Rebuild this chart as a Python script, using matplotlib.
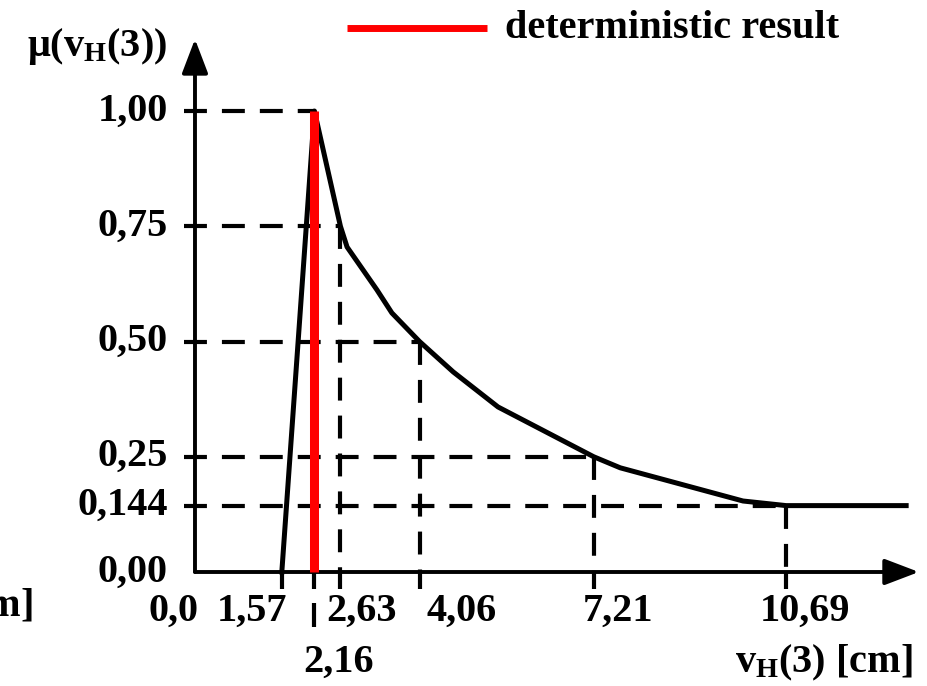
import matplotlib.pyplot as plt

plt.rcParams['font.family'] = 'Liberation Serif'
plt.rcParams['font.weight'] = 'bold'
plt.rcParams['mathtext.fontset'] = 'custom'
plt.rcParams['mathtext.rm'] = 'Liberation Serif:bold'
plt.rcParams['mathtext.it'] = 'Liberation Serif:bold'
plt.rcParams['mathtext.bf'] = 'Liberation Serif:bold'

# membership function of v_H(3)
v_curve = [1.57, 2.16, 2.63, 2.75, 3.29, 3.56, 4.06, 4.67, 5.48, 7.21, 7.69, 9.91, 10.69, 12.86]
mu_curve = [0.0, 1.0, 0.75, 0.705, 0.612, 0.562, 0.50, 0.434, 0.358, 0.25, 0.226, 0.154, 0.144, 0.144]

# alpha levels and matching displacements
levels = [1.00, 0.75, 0.50, 0.25, 0.144]
level_v = [2.16, 2.63, 4.06, 7.21, 10.69]
y_labels = ["1,00", "0,75", "0,50", "0,25", "0,144", "0,00"]
y_label_vals = [1.00, 0.75, 0.50, 0.25, 0.144, 0.0]

x_ticks = [1.57, 2.16, 2.63, 4.06, 7.21, 10.69]
x_labels = ["0,0", "1,57", "2,63", "4,06", "7,21", "10,69", "2,16"]
x_label_pos = [-0.38, 1.03, 3.02, 4.83, 7.65, 11.03, 2.60]   # where the labels were put
x_label_row = [-0.085, -0.085, -0.085, -0.085, -0.085, -0.085, -0.195]

v_det = 2.16

fig = plt.figure(figsize=(9.27, 6.86), dpi=100)
ax = fig.add_axes([0, 0, 1, 1])
ax.set_xlim(-3.526, 13.237)
ax.set_ylim(-0.2473, 1.2408)
ax.axis('off')

dash = (0, (5.5, 3.6))

# dashed guide lines
for lv, vv in zip(levels, level_v):
    ax.plot([-0.2, vv], [lv, lv], color='k', lw=3, ls=dash, zorder=1)
    if vv != v_det:
        ax.plot([vv, vv], [lv, 0], color='k', lw=3, ls=dash, zorder=1)

# small ticks below the x axis
for xt in x_ticks:
    ax.plot([xt, xt], [0, -0.036], color='k', lw=3, solid_capstyle='butt', zorder=2)
ax.plot([v_det, v_det], [-0.067, -0.119], color='k', lw=3, solid_capstyle='butt', zorder=2)

# axes with arrows
arrow = dict(arrowstyle='-|>,head_length=1.05,head_width=0.4', lw=2.8,
             color='k', mutation_scale=20, shrinkA=0, shrinkB=0)
ax.annotate('', xy=(13.09, 0), xytext=(0, 0), arrowprops=arrow)
ax.annotate('', xy=(0, 1.156), xytext=(0, 0), arrowprops=arrow)

# membership curve
ax.plot(v_curve, mu_curve, color='k', lw=3.6, solid_joinstyle='round', zorder=3)

# deterministic result
ax.plot([v_det, v_det], [0, 1.0], color='red', lw=6.5, solid_capstyle='butt', zorder=4)
ax.plot([2.75, 5.28], [1.18, 1.18], color='red', lw=5, solid_capstyle='butt')
ax.text(5.61, 1.18, 'deterministic result', fontsize=29, va='center', ha='left')

# labels
fs = 29
for lab, yv in zip(y_labels, y_label_vals):
    ax.text(-0.49, yv, lab, fontsize=fs, ha='right', va='center')
for lab, xp, yp in zip(x_labels, x_label_pos, x_label_row):
    ax.text(xp, yp, lab, fontsize=fs, ha='center', va='center')

ax.text(-0.506, 1.139, r'μ(v$_{\mathrm{H}}$(3))', fontsize=fs, ha='right', va='center')
ax.text(12.98, -0.197, r'v$_{\mathrm{H}}$(3) [cm]', fontsize=fs, ha='right', va='center')
# axis label repeated at the far left, cut by the figure edge as in the reference
ax.text(-2.93, -0.076, r'v$_{\mathrm{H}}$(3) [cm]', fontsize=fs, ha='right', va='center')

fig.savefig('out.png', dpi=100)
